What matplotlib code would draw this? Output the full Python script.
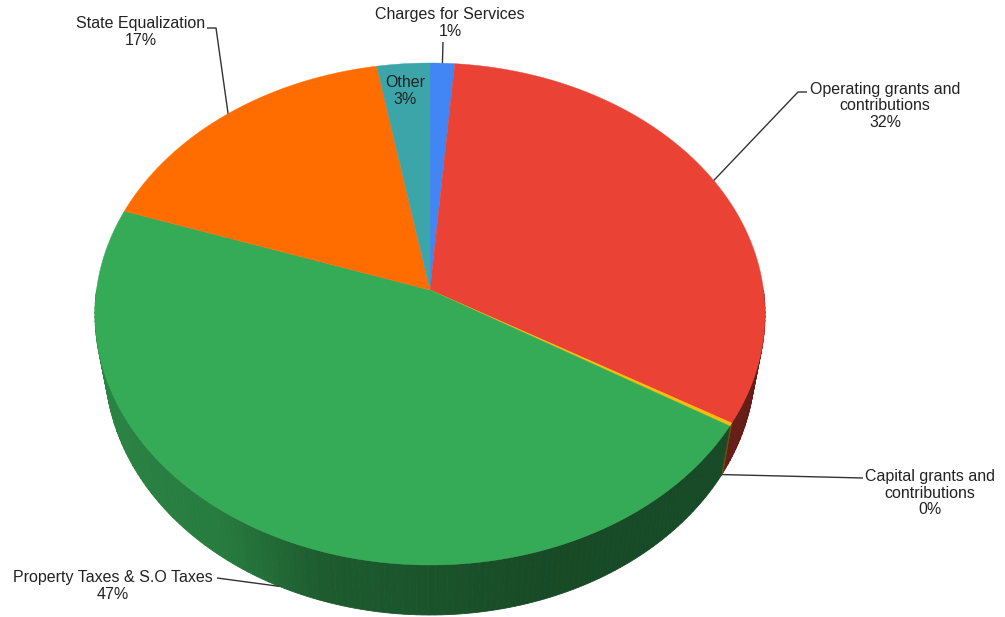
import numpy as np
import matplotlib
matplotlib.use("Agg")
import matplotlib.pyplot as plt
from matplotlib.colors import to_rgb

# ---------------- data ----------------
categories = ["Charges for Services",
              "Operating grants and\ncontributions",
              "Capital grants and\ncontributions",
              "Property Taxes & S.O Taxes",
              "State Equalization",
              "Other"]
values = [1.3, 32.2, 0.2, 46.6, 16.9, 2.8]
pct_labels = ["1%", "32%", "0%", "47%", "17%", "3%"]
top_colors = ["#4285f4", "#ea4335", "#fbbc04", "#36ab57", "#ff6d01", "#3ca5aa"]

# ---------------- layout ----------------
W, H = 1005, 617
fig = plt.figure(figsize=(W / 100, H / 100), dpi=100)
ax = fig.add_axes([0, 0, 1, 1])

# slice angles computed by matplotlib's pie (wedges themselves hidden,
# then re-drawn with a perspective projection to get the 3D look)
wedges, _ = ax.pie(values, colors=top_colors, startangle=90, counterclock=False,
                   radius=1, center=(0, 0), wedgeprops=dict(linewidth=0))
for w in wedges:
    w.set_visible(False)
ax.set_aspect("auto")
ax.set_xlim(0, W)
ax.set_ylim(H, 0)
ax.axis("off")

# perspective projection of the pie plane (pixel space)
CX, CY = 430, 290          # projected pie centre
SX, SY = 333.5, 248.7      # scale
K = 0.0956                 # perspective strength
DEPTH = 50                 # side height in px
BOT_SCALE = 0.97           # bottom rim slightly narrower (perspective)


def proj(t_deg):
    t = np.radians(t_deg)
    x, y = np.cos(t), np.sin(t)
    d = 1 + K * y
    return CX + SX * x / d, CY - SY * y / d


def proj_bottom(t_deg):
    X, Y = proj(t_deg)
    return CX + BOT_SCALE * (X - CX), Y + DEPTH


def side_factor(t):
    t = t % 360
    return np.interp(t, [180, 235, 252, 290, 360], [0.80, 0.72, 0.54, 0.43, 0.44])


# ---------------- side (depth) ----------------
for i, w in enumerate(wedges):
    t1, t2 = w.theta1, w.theta2
    base = np.array(to_rgb(top_colors[i]))
    for k in (-1, 0, 1):
        lo = max(t1, 180 + 360 * k)
        hi = min(t2, 360 + 360 * k)
        if hi <= lo:
            continue
        edges = np.linspace(lo, hi, max(2, int(np.ceil(hi - lo)) + 1))
        for a, b in zip(edges[:-1], edges[1:]):
            tt = np.linspace(a, b, 4)
            xt, yt = proj(tt)
            xb, yb = proj_bottom(tt[::-1])
            c = np.clip(base * side_factor((a + b) / 2), 0, 1)
            ax.fill(np.concatenate([xt, xb]), np.concatenate([yt, yb]),
                    color=c, lw=0.6, edgecolor=c, zorder=1)

# ---------------- top face ----------------
for i, w in enumerate(wedges):
    tt = np.linspace(w.theta1, w.theta2, max(3, int((w.theta2 - w.theta1) * 2) + 1))
    xt, yt = proj(tt)
    c = top_colors[i]
    ax.fill(np.concatenate([[CX], xt]), np.concatenate([[CY], yt]),
            color=c, lw=0.3, edgecolor=c, zorder=3)

# ---------------- labels ----------------
font = dict(family=["Liberation Sans", "DejaVu Sans"], size=11.5, color="#222222")
text_pos = [(450, 23), (885, 106), (930, 493), (113, 586), (141, 32), (405, 91)]
for i, (px, py) in enumerate(text_pos):
    ax.text(px, py, categories[i] + "\n" + pct_labels[i],
            ha="center", va="center", linespacing=1.1, zorder=6, **font)

# leader lines: text-side points (layout) then anchor on the slice
leader_text_end = {0: [(443, 42)],
                   1: [(807, 92), (798, 92)],
                   2: [(863, 478)],
                   3: [(217, 578)],
                   4: [(207, 28), (216, 28)]}
for i, pts in leader_text_end.items():
    w = wedges[i]
    m = (w.theta1 + w.theta2) / 2
    if np.sin(np.radians(m)) < 0:
        ax_x, ax_y = proj_bottom(m)
    else:
        ax_x, ax_y = proj(m)
    xs = [p[0] for p in pts] + [float(ax_x)]
    ys = [p[1] for p in pts] + [float(ax_y)]
    ax.plot(xs, ys, color="#333333", lw=1.0, zorder=5, solid_capstyle="butt")

fig.savefig("out.png", dpi=100, facecolor="white")
